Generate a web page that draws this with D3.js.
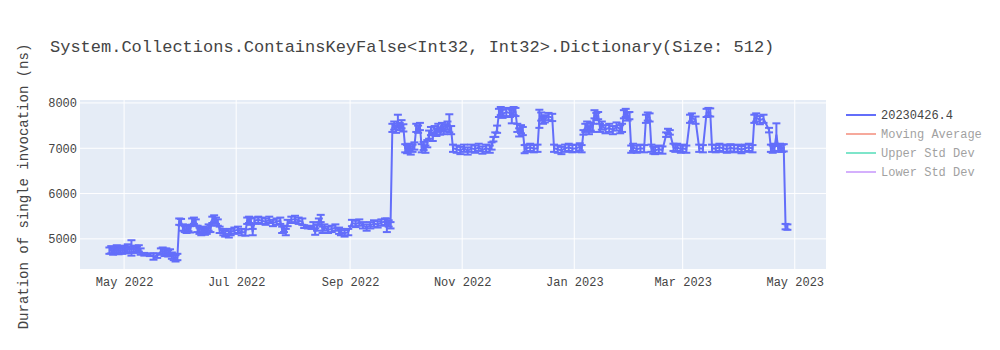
<!DOCTYPE html>
<html>
<head>
<meta charset="utf-8">
<script src="https://cdn.jsdelivr.net/npm/d3@7"></script>
<style>
  body { margin: 0; background: #fff; }
  svg text { font-family: "Liberation Mono", "Courier New", monospace; }
</style>
</head>
<body>
<div></div>
<script>
const width = 1000
const height = 350

const title = 'System.Collections.ContainsKeyFalse<Int32, Int32>.Dictionary(Size: 512)'
const yTitle = 'Duration of single invocation (ns)'

// run dates, mean duration (ns) and error (ns)
const dates = [
  '2022-04-23','2022-04-24','2022-04-25','2022-04-26','2022-04-27','2022-04-28','2022-04-29','2022-04-30',
  '2022-05-01','2022-05-02','2022-05-03','2022-05-04','2022-05-05','2022-05-06','2022-05-07','2022-05-08',
  '2022-05-09','2022-05-10','2022-05-12','2022-05-15','2022-05-17','2022-05-19','2022-05-21','2022-05-22',
  '2022-05-23','2022-05-24','2022-05-25','2022-05-26','2022-05-27','2022-05-28','2022-05-29','2022-05-30',
  '2022-05-31','2022-06-01','2022-06-02','2022-06-03','2022-06-04','2022-06-05','2022-06-06','2022-06-07',
  '2022-06-08','2022-06-09','2022-06-10','2022-06-11','2022-06-12','2022-06-13','2022-06-14','2022-06-15',
  '2022-06-16','2022-06-17','2022-06-18','2022-06-19','2022-06-20','2022-06-21','2022-06-22','2022-06-24',
  '2022-06-25','2022-06-27','2022-06-28','2022-06-30','2022-07-02','2022-07-04','2022-07-06','2022-07-07',
  '2022-07-08','2022-07-09','2022-07-10','2022-07-11','2022-07-13','2022-07-15','2022-07-17','2022-07-19',
  '2022-07-21','2022-07-23','2022-07-25','2022-07-26','2022-07-27','2022-07-28','2022-07-29','2022-07-31',
  '2022-08-02','2022-08-04','2022-08-06','2022-08-07','2022-08-09','2022-08-11','2022-08-12','2022-08-13',
  '2022-08-14','2022-08-15','2022-08-16','2022-08-17','2022-08-18','2022-08-20','2022-08-22','2022-08-24',
  '2022-08-26','2022-08-27','2022-08-29','2022-08-31','2022-09-02','2022-09-04','2022-09-06','2022-09-08',
  '2022-09-10','2022-09-12','2022-09-14','2022-09-16','2022-09-18','2022-09-20','2022-09-21','2022-09-22',
  '2022-09-23','2022-09-24','2022-09-25','2022-09-26','2022-09-27','2022-09-28','2022-09-29','2022-09-30',
  '2022-10-01','2022-10-02','2022-10-03','2022-10-04','2022-10-05','2022-10-06','2022-10-07','2022-10-08',
  '2022-10-09','2022-10-10','2022-10-11','2022-10-12','2022-10-13','2022-10-14','2022-10-15','2022-10-16',
  '2022-10-17','2022-10-18','2022-10-19','2022-10-20','2022-10-21','2022-10-22','2022-10-23','2022-10-24',
  '2022-10-25','2022-10-26','2022-10-27','2022-10-29','2022-10-31','2022-11-02','2022-11-04','2022-11-06',
  '2022-11-08','2022-11-10','2022-11-12','2022-11-14','2022-11-16','2022-11-17','2022-11-18','2022-11-19',
  '2022-11-20','2022-11-21','2022-11-22','2022-11-23','2022-11-25','2022-11-27','2022-11-28','2022-11-29',
  '2022-11-30','2022-12-01','2022-12-02','2022-12-03','2022-12-04','2022-12-05','2022-12-06','2022-12-08',
  '2022-12-10','2022-12-12','2022-12-13','2022-12-14','2022-12-15','2022-12-16','2022-12-18','2022-12-20',
  '2022-12-21','2022-12-23','2022-12-25','2022-12-27','2022-12-29','2022-12-31','2023-01-02','2023-01-04',
  '2023-01-05','2023-01-06','2023-01-07','2023-01-08','2023-01-09','2023-01-10','2023-01-11','2023-01-12',
  '2023-01-13','2023-01-14','2023-01-15','2023-01-16','2023-01-18','2023-01-20','2023-01-22','2023-01-24',
  '2023-01-26','2023-01-27','2023-01-28','2023-01-29','2023-01-30','2023-01-31','2023-02-01','2023-02-02',
  '2023-02-04','2023-02-06','2023-02-08','2023-02-09','2023-02-10','2023-02-11','2023-02-12','2023-02-13',
  '2023-02-14','2023-02-16','2023-02-18','2023-02-20','2023-02-21','2023-02-22','2023-02-24','2023-02-25',
  '2023-02-26','2023-02-28','2023-03-01','2023-03-03','2023-03-05','2023-03-06','2023-03-08','2023-03-10',
  '2023-03-12','2023-03-14','2023-03-15','2023-03-16','2023-03-17','2023-03-19','2023-03-21','2023-03-23',
  '2023-03-25','2023-03-27','2023-03-29','2023-03-31','2023-04-02','2023-04-04','2023-04-06','2023-04-08',
  '2023-04-09','2023-04-10','2023-04-12','2023-04-14','2023-04-17','2023-04-18','2023-04-19','2023-04-20',
  '2023-04-21','2023-04-22','2023-04-23','2023-04-24','2023-04-25','2023-04-26','2023-04-27'
]
const values = [
  4740,4760,4720,4750,4780,4730,4760,4740,
  4770,4750,4790,4760,4800,4770,4780,4760,
  4790,4720,4660,4650,4610,4630,4720,4740,
  4700,4720,4680,4700,4630,4600,4570,4600,
  5380,5370,5250,5220,5200,5240,5210,5380,
  5400,5360,5220,5180,5150,5200,5160,5180,
  5250,5220,5420,5450,5400,5360,5200,5150,
  5120,5100,5150,5180,5200,5150,5140,5400,
  5420,5380,5150,5400,5420,5400,5380,5420,
  5350,5380,5400,5200,5220,5150,5350,5420,
  5440,5400,5380,5270,5260,5250,5300,5160,
  5250,5380,5450,5200,5250,5200,5220,5250,
  5180,5150,5120,5150,5350,5330,5360,5300,
  5250,5300,5340,5320,5360,5380,5300,5340,
  5300,7450,7500,7420,7600,7480,7530,7450,
  7000,6980,7020,6950,7000,7050,7450,7420,
  7480,7000,7050,6980,7100,7300,7380,7250,
  7400,7350,7450,7380,7480,7400,7450,7500,
  7550,7400,7000,6980,6950,7000,6940,7000,
  6980,7020,6960,7000,6980,7050,7200,7300,
  7420,7780,7820,7760,7800,7780,7700,7820,
  7800,7450,7350,7420,7380,6980,7000,7020,
  6990,7000,7650,7700,7620,7650,7700,7680,
  7000,6980,6950,7000,7020,6990,7000,7030,
  6990,7350,7450,7500,7400,7480,7450,7750,
  7700,7720,7450,7500,7420,7450,7400,7480,
  7420,7450,7750,7780,7700,7720,6980,7020,
  6980,7000,6990,7650,7700,7680,7000,6960,
  6950,6980,6960,7300,7380,7350,7020,7000,
  7020,6980,7000,6980,7650,7680,7620,7000,
  6990,7780,7800,7790,7000,6990,7020,7000,
  6980,7010,6990,7000,6970,7000,7020,6990,
  7650,7680,7620,7650,7400,7000,6980,7020,
  7300,7000,7020,7000,7010,5270,5260
]
const errors = [
  70,80,70,70,80,70,70,70,
  80,70,90,70,170,70,70,70,
  70,70,30,30,70,50,70,70,
  80,70,70,70,70,70,70,70,
  70,70,70,70,70,70,70,70,
  70,70,70,70,70,70,70,70,
  70,70,70,70,70,70,70,70,
  70,70,70,70,70,70,70,70,
  70,70,70,70,70,70,70,70,
  70,70,70,70,70,70,70,70,
  70,70,70,30,30,30,70,70,
  70,70,80,70,70,70,70,70,
  70,70,70,70,70,70,70,70,
  70,70,70,70,70,70,150,70,
  70,90,90,80,140,80,90,80,
  90,90,80,90,80,80,90,80,
  80,90,90,80,80,90,90,90,
  90,80,90,80,80,90,80,90,
  200,90,80,80,80,80,80,80,
  80,80,80,80,80,80,50,50,
  80,90,90,90,90,90,150,90,
  90,90,90,90,90,90,80,80,
  80,80,200,90,80,80,80,80,
  80,80,80,80,80,80,80,80,
  80,50,90,90,90,90,90,90,
  80,80,90,90,90,90,90,90,
  90,90,90,90,90,80,80,80,
  80,80,80,90,90,90,80,80,
  80,80,80,50,50,50,80,80,
  80,80,80,80,90,90,80,80,
  80,90,90,90,80,80,80,80,
  80,80,80,80,80,80,80,80,
  90,90,90,90,50,80,80,80,
  250,80,80,80,80,60,60
]

const xTicks = ['2022-05-01','2022-07-01','2022-09-01','2022-11-01','2023-01-01','2023-03-01','2023-05-01']
const yTicks = [5000, 6000, 7000, 8000]

const legendNames = ['20230426.4', 'Moving Average', 'Upper Std Dev', 'Lower Std Dev']
const legendColors = ['#636efa', '#EF553B', '#00cc96', '#ab63fa']
const legendOpacity = [1, 0.5, 0.5, 0.5]

const parse = d3.timeParse('%Y-%m-%d')
const points = dates.map((d, i) => ({ date: parse(d), value: values[i], err: errors[i] }))

const margin = { left: 80, right: 174, top: 100, bottom: 81 }
const plotW = width - margin.left - margin.right
const plotH = height - margin.top - margin.bottom

let svg = d3.select('div').append('svg')
    .attr('width', width)
    .attr('height', height)

const x = d3.scaleTime()
    .domain([parse('2022-04-07'), parse('2023-05-18')])
    .range([0, plotW])
const y = d3.scaleLinear()
    .domain([4335, 8065])
    .range([plotH, 0])

let g = svg.append('g').attr('transform', 'translate(' + margin.left + ',' + margin.top + ')')

g.append('rect')
    .attr('width', plotW)
    .attr('height', plotH)
    .style('fill', '#e5ecf6')

// grid lines
g.selectAll('.vgrid')
    .data(xTicks.map(parse))
    .enter().append('line')
    .attr('x1', d => x(d)).attr('x2', d => x(d))
    .attr('y1', 0).attr('y2', plotH)
    .style('stroke', '#fff').style('stroke-width', 1)
g.selectAll('.hgrid')
    .data(yTicks)
    .enter().append('line')
    .attr('x1', 0).attr('x2', plotW)
    .attr('y1', d => y(d)).attr('y2', d => y(d))
    .style('stroke', '#fff').style('stroke-width', 1)

// axes, no domain or tick lines like plotly
const fmt = d3.timeFormat('%b %Y')
let xAxis = g.append('g')
    .attr('transform', 'translate(0,' + plotH + ')')
    .call(d3.axisBottom(x).tickValues(xTicks.map(parse)).tickFormat(fmt).tickSize(0).tickPadding(8))
let yAxis = g.append('g')
    .call(d3.axisLeft(y).tickValues(yTicks).tickFormat(d3.format('d')).tickSize(0).tickPadding(3))
;[xAxis, yAxis].forEach(a => {
    a.select('.domain').remove()
    a.selectAll('text')
        .style('font-family', '"Liberation Mono", "Courier New", monospace')
        .style('font-size', '12px')
        .style('fill', '#444')
})

// error bars
const col = '#636efa'
const capHalf = 4
let eb = g.append('g')
eb.selectAll('.bar')
    .data(points).enter().append('line')
    .attr('x1', d => x(d.date)).attr('x2', d => x(d.date))
    .attr('y1', d => y(d.value - d.err)).attr('y2', d => y(d.value + d.err))
    .style('stroke', col).style('stroke-width', 2)
;['top', 'bot'].forEach(side => {
    eb.selectAll('.cap-' + side)
        .data(points).enter().append('line')
        .attr('x1', d => x(d.date) - capHalf).attr('x2', d => x(d.date) + capHalf)
        .attr('y1', d => y(side === 'top' ? d.value + d.err : d.value - d.err))
        .attr('y2', d => y(side === 'top' ? d.value + d.err : d.value - d.err))
        .style('stroke', col).style('stroke-width', 2)
})

// line
const line = d3.line().x(d => x(d.date)).y(d => y(d.value))
g.append('path')
    .datum(points)
    .attr('d', line)
    .style('fill', 'none')
    .style('stroke', col)
    .style('stroke-width', 2)

// title
svg.append('text')
    .attr('x', 50)
    .attr('y', 52)
    .style('font-size', '17px')
    .style('fill', '#444')
    .text(title)

svg.append('text')
    .attr('transform', 'translate(28,' + (margin.top + plotH / 2 + 2) + ') rotate(-90)')
    .attr('text-anchor', 'middle')
    .style('font-size', '14px')
    .style('fill', '#444')
    .text(yTitle)

// legend
let legend = svg.append('g').attr('transform', 'translate(846,115)')
let item = legend.selectAll('g')
    .data(legendNames)
    .enter().append('g')
    .attr('transform', (d, i) => 'translate(0,' + (i * 19) + ')')
    .style('opacity', (d, i) => legendOpacity[i])
item.append('line')
    .attr('x1', 0).attr('x2', 30)
    .style('stroke', (d, i) => legendColors[i])
    .style('stroke-width', 2)
item.append('text')
    .attr('x', 35)
    .attr('y', 4)
    .style('font-size', '12px')
    .style('fill', '#444')
    .text(d => d)
</script>
</body>
</html>
